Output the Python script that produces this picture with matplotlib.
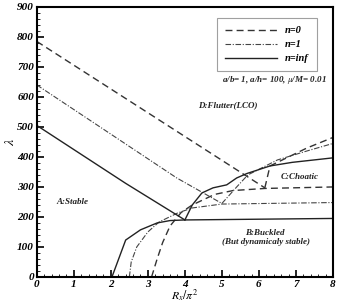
import numpy as np
import matplotlib
matplotlib.use("Agg")
import matplotlib.pyplot as plt
from matplotlib.ticker import MultipleLocator

plt.rcParams["font.family"] = ["Liberation Serif", "DejaVu Serif"]
plt.rcParams["mathtext.fontset"] = "stix"

# n = 0 (dashed)
n0_flutter_x = [0.0, 6.16]
n0_flutter_y = [785, 297]
n0_buckle_x = [3.1, 3.25, 3.4, 3.6, 3.9, 4.2, 4.8, 5.3, 6.16, 8.0]
n0_buckle_y = [0, 60, 115, 170, 215, 240, 275, 288, 295, 300]
n0_chaos_x = [6.16, 6.3, 7.3, 8.0]
n0_chaos_y = [297, 370, 430, 465]

# n = 1 (dash-dot)
n1_flutter_x = [0.0, 3.78, 5.0]
n1_flutter_y = [640, 330, 245]
n1_buckle_x = [2.5, 2.55, 2.7, 3.0, 3.3, 3.8, 4.2, 5.0, 8.0]
n1_buckle_y = [0, 50, 100, 150, 183, 213, 230, 243, 248]
n1_chaos_x = [5.0, 5.4, 5.7, 6.5, 7.3, 8.0]
n1_chaos_y = [245, 300, 340, 390, 420, 445]

# n = inf (solid)
ninf_flutter_x = [0.0, 2.4, 4.0]
ninf_flutter_y = [505, 312, 190]
ninf_buckle_x = [2.03, 2.4, 2.8, 3.25, 3.6, 4.0, 8.0]
ninf_buckle_y = [0, 123, 157, 180, 188, 190, 195]
ninf_chaos_x = [4.0, 4.2, 4.46, 4.76, 5.13, 5.4, 5.68, 6.3, 6.9, 8.0]
ninf_chaos_y = [190, 240, 280, 297, 307, 330, 345, 370, 382, 397]

fig = plt.figure(figsize=(3.38, 3.03), dpi=100)
ax = fig.add_axes([0.109, 0.086, 0.876, 0.891])

dash = dict(color="#333333", lw=1.0, linestyle=(0, (5, 3)))
dashdot = dict(color="#444444", lw=0.8, linestyle=(0, (5, 1.5, 1, 1.5)))
solid = dict(color="#222222", lw=1.0, linestyle="-")

ax.plot(n0_flutter_x, n0_flutter_y, label="n=0", **dash)
ax.plot(n0_buckle_x, n0_buckle_y, **dash)
ax.plot(n0_chaos_x, n0_chaos_y, **dash)

ax.plot(n1_flutter_x, n1_flutter_y, label="n=1", **dashdot)
ax.plot(n1_buckle_x, n1_buckle_y, **dashdot)
ax.plot(n1_chaos_x, n1_chaos_y, **dashdot)

ax.plot(ninf_flutter_x, ninf_flutter_y, label="n=inf", **solid)
ax.plot(ninf_buckle_x, ninf_buckle_y, **solid)
ax.plot(ninf_chaos_x, ninf_chaos_y, **solid)

ax.set_xlim(0, 8)
ax.set_ylim(0, 900)
ax.xaxis.set_major_locator(MultipleLocator(1))
ax.xaxis.set_minor_locator(MultipleLocator(0.2))
ax.yaxis.set_major_locator(MultipleLocator(100))
ax.yaxis.set_minor_locator(MultipleLocator(20))
ax.tick_params(which="major", direction="in", length=5, width=1.2, top=False, right=False, pad=2)
ax.tick_params(which="minor", direction="in", length=2.5, width=0.6, top=False, right=False)
for lab in ax.get_xticklabels() + ax.get_yticklabels():
    lab.set_fontstyle("italic")
    lab.set_fontweight("bold")
    lab.set_fontsize(8)
for sp in ax.spines.values():
    sp.set_linewidth(1.5)

ax.set_xlabel(r"$R_x/\pi^2$", fontsize=8.5, labelpad=-1)
ax.set_ylabel(r"$\lambda$", fontsize=10, labelpad=0)

leg = ax.legend(loc="upper right", bbox_to_anchor=(0.965, 0.98),
                prop=dict(style="italic", weight="bold", size=7.5),
                handlelength=5, frameon=True, fancybox=False,
                edgecolor="#888888", borderpad=0.8, labelspacing=0.45)
leg.get_frame().set_linewidth(0.8)

txt = dict(style="italic", weight="bold", fontsize=6.5, color="#222222")
ax.text(7.84, 657, r"a/b= 1, a/h= 100, $\mu$/M= 0.01", ha="right", va="center", **txt)
ax.text(5.16, 573, "D:Flutter(LCO)", ha="center", va="center", **txt)
ax.text(7.1, 333, "C:Choatic", ha="center", va="center", **txt)
ax.text(0.95, 250, "A:Stable", ha="center", va="center", **txt)
ax.text(6.16, 147, "B:Buckled", ha="center", va="center", **txt)
ax.text(6.2, 117, "(But dynamicaly stable)", ha="center", va="center", **txt)

fig.savefig("out.png", dpi=100)
